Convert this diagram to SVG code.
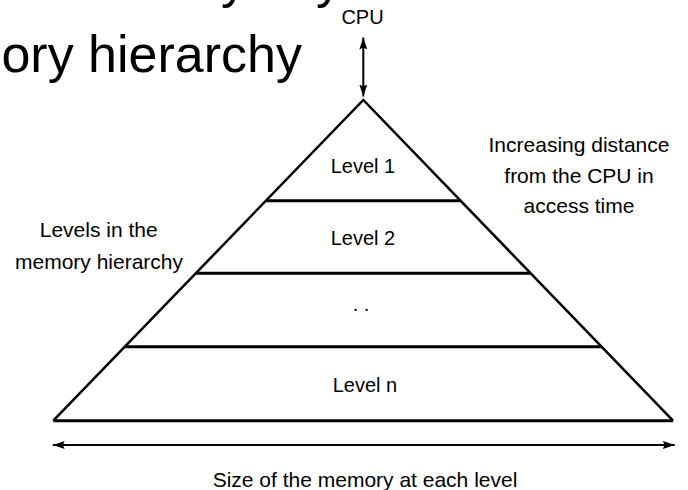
<svg xmlns="http://www.w3.org/2000/svg" width="688" height="490" viewBox="0 0 688 490">
  <style>
    text { font-family: "Liberation Sans", Arial, sans-serif; fill: #000; }
    .lbl { font-size: 21px; text-anchor: middle; }
    .lvl { font-size: 20px; text-anchor: middle; }
    .title { font-size: 52px; }
    .edge { fill: none; stroke: #000; stroke-width: 2.5; stroke-linejoin: miter; }
    .band { stroke: #000; stroke-width: 3; }
    .conn { stroke: #000; stroke-width: 2; fill: none; }
  </style>
  <defs>
    <marker id="head" viewBox="0 0 12 8" refX="12" refY="4" markerWidth="12" markerHeight="8" markerUnits="userSpaceOnUse" orient="auto-start-reverse">
      <path d="M0,0 L12,4 L0,8 L2,4 Z" fill="#000"/>
    </marker>
  </defs>

  <rect width="688" height="490" fill="#fff"/>

  <!-- slide title, partly outside the frame -->
  <g id="title">
    <text class="title" x="221" y="-3.5">y</text>
    <text class="title" x="316" y="-3.5">y</text>
    <text class="title" x="302" y="72" text-anchor="end">ory hierarchy</text>
  </g>

  <!-- pyramid outline and level bands -->
  <g id="pyramid">
    <path class="edge" d="M53.3,420.7 L363.3,100 L673,420.7"/>
    <line class="band" x1="266" y1="200.7" x2="460.5" y2="200.7"/>
    <line class="band" x1="195.8" y1="273.3" x2="530.8" y2="273.3"/>
    <line class="band" x1="124.8" y1="346.7" x2="601.8" y2="346.7"/>
    <line class="band" x1="53.3" y1="420.7" x2="673" y2="420.7"/>
  </g>

  <g id="level1"><text class="lvl" x="363" y="172.7">Level 1</text></g>
  <g id="level2"><text class="lvl" x="363" y="245">Level 2</text></g>
  <g id="levelDots"><text class="lvl" x="361" y="311">. .</text></g>
  <g id="levelN"><text class="lvl" x="365" y="392">Level n</text></g>

  <g id="cpu"><text class="lvl" x="362.5" y="24">CPU</text></g>

  <g id="sideLeft">
    <text class="lbl" x="98.7" y="236.7">Levels in the</text>
    <text class="lbl" x="99" y="269.3">memory hierarchy</text>
  </g>

  <g id="sideRight">
    <text class="lbl" x="579" y="151.7">Increasing distance</text>
    <text class="lbl" x="579" y="183.3">from the CPU in</text>
    <text class="lbl" x="579" y="213.3">access time</text>
  </g>

  <g id="sizeLabel">
    <text class="lbl" x="365" y="486.5">Size of the memory at each level</text>
  </g>

  <!-- connectors -->
  <g id="connectors">
    <line class="conn" x1="363.3" y1="37.5" x2="363.3" y2="96.5" marker-start="url(#head)" marker-end="url(#head)"/>
    <line class="conn" x1="52.7" y1="445" x2="674.7" y2="445" marker-start="url(#head)" marker-end="url(#head)"/>
  </g>
</svg>
